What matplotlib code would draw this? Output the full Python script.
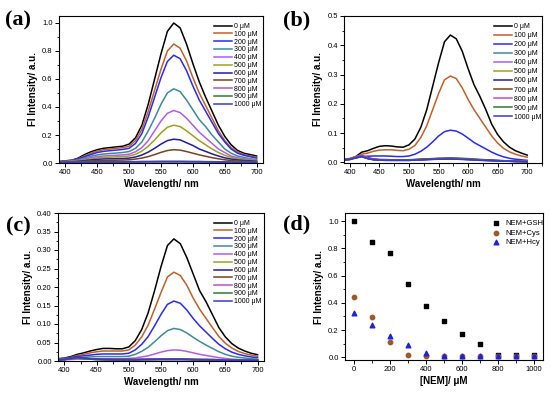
import numpy as np
import matplotlib.pyplot as plt
from matplotlib.ticker import MultipleLocator

plt.rcParams['font.family'] = ['Liberation Sans', 'DejaVu Sans']

# wavelength grid (nm) shared by all spectra
wl = [390, 400, 410, 420, 430, 440, 450, 460, 470, 480, 490, 500, 510, 520, 530, 540,
      550, 560, 570, 580, 590, 600, 610, 620, 630, 640, 650, 660, 670, 680, 690, 700]

labels = ['0 μM', '100 μM', '200 μM', '300 μM', '400 μM', '500 μM',
          '600 μM', '700 μM', '800 μM', '900 μM', '1000 μM']
colors = ['#000000', '#c0602a', '#2a2af0', '#3f8a94', '#b05cf0', '#a0a020',
          '#1e1e9e', '#7a4020', '#c050c0', '#2e7d2e', '#3a3ad0']

# (a) NEM + GSH
a_0 = [0.01, 0.015, 0.02, 0.035, 0.06, 0.08, 0.095, 0.105, 0.11, 0.115, 0.12, 0.135, 0.18, 0.27, 0.42, 0.60,
       0.78, 0.94, 1.0, 0.965, 0.85, 0.71, 0.58, 0.47, 0.37, 0.27, 0.19, 0.13, 0.09, 0.07, 0.06, 0.05]
a_100 = [0.01, 0.015, 0.02, 0.03, 0.05, 0.07, 0.085, 0.095, 0.10, 0.105, 0.11, 0.12, 0.16, 0.24, 0.37, 0.52,
         0.67, 0.80, 0.85, 0.82, 0.73, 0.61, 0.50, 0.41, 0.32, 0.23, 0.16, 0.11, 0.08, 0.06, 0.05, 0.04]
a_200 = [0.01, 0.012, 0.018, 0.028, 0.045, 0.06, 0.075, 0.083, 0.088, 0.092, 0.097, 0.105, 0.14, 0.21, 0.33, 0.47,
         0.61, 0.725, 0.77, 0.745, 0.66, 0.55, 0.45, 0.37, 0.29, 0.21, 0.15, 0.10, 0.07, 0.055, 0.045, 0.035]
a_300 = [0.008, 0.01, 0.015, 0.022, 0.035, 0.048, 0.058, 0.064, 0.068, 0.071, 0.075, 0.082, 0.105, 0.15, 0.23, 0.32,
         0.42, 0.50, 0.53, 0.51, 0.45, 0.38, 0.31, 0.26, 0.20, 0.15, 0.10, 0.07, 0.05, 0.04, 0.03, 0.025]
a_400 = [0.007, 0.009, 0.013, 0.018, 0.028, 0.038, 0.046, 0.05, 0.053, 0.055, 0.058, 0.063, 0.08, 0.11, 0.16, 0.23,
         0.30, 0.355, 0.375, 0.36, 0.32, 0.27, 0.22, 0.18, 0.14, 0.10, 0.075, 0.05, 0.038, 0.03, 0.025, 0.02]
a_500 = [0.006, 0.008, 0.011, 0.015, 0.022, 0.03, 0.036, 0.04, 0.042, 0.044, 0.046, 0.05, 0.062, 0.085, 0.12, 0.165,
         0.215, 0.255, 0.27, 0.26, 0.23, 0.195, 0.16, 0.13, 0.10, 0.075, 0.055, 0.04, 0.03, 0.024, 0.02, 0.016]
a_600 = [0.005, 0.007, 0.009, 0.012, 0.017, 0.022, 0.026, 0.029, 0.03, 0.031, 0.032, 0.035, 0.043, 0.057, 0.078, 0.105,
         0.135, 0.16, 0.17, 0.165, 0.145, 0.125, 0.10, 0.083, 0.065, 0.05, 0.037, 0.028, 0.022, 0.018, 0.015, 0.012]
a_700 = [0.004, 0.005, 0.007, 0.009, 0.012, 0.015, 0.017, 0.018, 0.019, 0.02, 0.021, 0.023, 0.028, 0.035, 0.046, 0.06,
         0.076, 0.089, 0.095, 0.092, 0.082, 0.07, 0.058, 0.048, 0.038, 0.03, 0.023, 0.018, 0.014, 0.012, 0.01, 0.008]
a_800 = [0.003, 0.004, 0.005, 0.006, 0.007, 0.008, 0.008, 0.009, 0.009, 0.009, 0.009, 0.01, 0.01, 0.011, 0.011, 0.012,
         0.012, 0.012, 0.012, 0.012, 0.012, 0.011, 0.011, 0.01, 0.01, 0.009, 0.008, 0.007, 0.006, 0.006, 0.005, 0.005]
a_900 = [0.003, 0.004, 0.005, 0.006, 0.007, 0.007, 0.008, 0.008, 0.008, 0.008, 0.008, 0.009, 0.009, 0.01, 0.01, 0.01,
         0.011, 0.011, 0.011, 0.011, 0.01, 0.01, 0.01, 0.009, 0.009, 0.008, 0.007, 0.006, 0.006, 0.005, 0.005, 0.004]
a_1000 = [0.003, 0.003, 0.004, 0.005, 0.005, 0.006, 0.006, 0.006, 0.006, 0.006, 0.006, 0.007, 0.007, 0.007, 0.008, 0.008,
          0.008, 0.008, 0.008, 0.008, 0.008, 0.008, 0.007, 0.007, 0.007, 0.006, 0.006, 0.005, 0.005, 0.004, 0.004, 0.004]

# (b) NEM + Cys
b_0 = [0.012, 0.013, 0.02, 0.035, 0.04, 0.048, 0.055, 0.057, 0.056, 0.053, 0.052, 0.06, 0.08, 0.12, 0.18, 0.26,
       0.34, 0.412, 0.435, 0.422, 0.38, 0.32, 0.265, 0.225, 0.18, 0.13, 0.095, 0.07, 0.052, 0.04, 0.032, 0.025]
b_100 = [0.01, 0.012, 0.018, 0.028, 0.032, 0.038, 0.042, 0.043, 0.043, 0.041, 0.04, 0.045, 0.058, 0.085, 0.125, 0.18,
         0.235, 0.282, 0.295, 0.286, 0.255, 0.215, 0.18, 0.15, 0.12, 0.09, 0.066, 0.048, 0.036, 0.028, 0.022, 0.018]
b_200 = [0.01, 0.012, 0.016, 0.02, 0.021, 0.022, 0.022, 0.022, 0.021, 0.02, 0.02, 0.022, 0.028, 0.038, 0.052, 0.07,
         0.09, 0.105, 0.11, 0.107, 0.097, 0.083, 0.068, 0.057, 0.046, 0.035, 0.026, 0.019, 0.014, 0.011, 0.009, 0.007]
b_300 = [0.01, 0.012, 0.018, 0.022, 0.015, 0.011, 0.01, 0.01, 0.009, 0.009, 0.009, 0.009, 0.01, 0.011, 0.012, 0.013,
         0.014, 0.015, 0.015, 0.015, 0.014, 0.013, 0.011, 0.01, 0.009, 0.008, 0.007, 0.006, 0.005, 0.005, 0.004, 0.004]
b_400 = [0.01, 0.012, 0.02, 0.025, 0.017, 0.012, 0.01, 0.009, 0.009, 0.009, 0.009, 0.009, 0.01, 0.011, 0.012, 0.013,
         0.014, 0.014, 0.015, 0.014, 0.013, 0.012, 0.011, 0.01, 0.009, 0.008, 0.007, 0.006, 0.005, 0.005, 0.004, 0.004]
b_500 = [0.009, 0.011, 0.016, 0.02, 0.014, 0.01, 0.009, 0.009, 0.008, 0.008, 0.008, 0.008, 0.009, 0.01, 0.011, 0.012,
         0.013, 0.014, 0.014, 0.014, 0.013, 0.012, 0.01, 0.009, 0.008, 0.007, 0.006, 0.005, 0.005, 0.004, 0.004, 0.003]
b_600 = [0.009, 0.011, 0.017, 0.021, 0.014, 0.01, 0.009, 0.008, 0.008, 0.008, 0.008, 0.008, 0.009, 0.01, 0.011, 0.012,
         0.013, 0.013, 0.014, 0.013, 0.012, 0.011, 0.01, 0.009, 0.008, 0.007, 0.006, 0.005, 0.004, 0.004, 0.003, 0.003]
b_700 = [0.009, 0.011, 0.018, 0.023, 0.015, 0.011, 0.009, 0.009, 0.008, 0.008, 0.008, 0.008, 0.009, 0.01, 0.011, 0.012,
         0.012, 0.013, 0.013, 0.013, 0.012, 0.011, 0.01, 0.009, 0.008, 0.007, 0.006, 0.005, 0.004, 0.004, 0.003, 0.003]
b_800 = [0.008, 0.01, 0.017, 0.022, 0.014, 0.01, 0.008, 0.008, 0.007, 0.007, 0.007, 0.007, 0.008, 0.009, 0.01, 0.011,
         0.012, 0.012, 0.012, 0.012, 0.011, 0.01, 0.009, 0.008, 0.007, 0.006, 0.005, 0.005, 0.004, 0.003, 0.003, 0.003]
b_900 = [0.008, 0.01, 0.015, 0.019, 0.013, 0.009, 0.008, 0.007, 0.007, 0.007, 0.007, 0.007, 0.008, 0.009, 0.01, 0.011,
         0.011, 0.012, 0.012, 0.012, 0.011, 0.01, 0.009, 0.008, 0.007, 0.006, 0.005, 0.004, 0.004, 0.003, 0.003, 0.002]
b_1000 = [0.008, 0.01, 0.016, 0.02, 0.013, 0.009, 0.008, 0.007, 0.007, 0.007, 0.007, 0.007, 0.008, 0.008, 0.009, 0.01,
          0.011, 0.011, 0.011, 0.011, 0.01, 0.009, 0.008, 0.007, 0.006, 0.006, 0.005, 0.004, 0.004, 0.003, 0.003, 0.002]

# (c) NEM + Hcy
c_0 = [0.006, 0.008, 0.012, 0.018, 0.022, 0.027, 0.031, 0.034, 0.034, 0.033, 0.033, 0.038, 0.055, 0.085, 0.13, 0.19,
       0.255, 0.312, 0.33, 0.317, 0.28, 0.235, 0.19, 0.16, 0.125, 0.09, 0.065, 0.047, 0.035, 0.027, 0.021, 0.017]
c_100 = [0.006, 0.007, 0.01, 0.015, 0.018, 0.022, 0.025, 0.027, 0.027, 0.027, 0.027, 0.03, 0.043, 0.065, 0.097, 0.14,
         0.185, 0.227, 0.24, 0.231, 0.205, 0.17, 0.14, 0.115, 0.09, 0.066, 0.048, 0.035, 0.026, 0.02, 0.016, 0.013]
c_200 = [0.005, 0.006, 0.009, 0.012, 0.014, 0.016, 0.018, 0.019, 0.019, 0.019, 0.019, 0.021, 0.03, 0.045, 0.066, 0.095,
         0.126, 0.153, 0.162, 0.156, 0.138, 0.115, 0.095, 0.078, 0.061, 0.045, 0.033, 0.024, 0.018, 0.014, 0.011, 0.009]
c_300 = [0.004, 0.005, 0.007, 0.009, 0.01, 0.011, 0.012, 0.012, 0.012, 0.012, 0.012, 0.013, 0.018, 0.026, 0.037, 0.052,
         0.068, 0.082, 0.088, 0.085, 0.076, 0.064, 0.053, 0.043, 0.034, 0.025, 0.018, 0.013, 0.01, 0.008, 0.006, 0.005]
c_400 = [0.003, 0.003, 0.004, 0.005, 0.005, 0.006, 0.006, 0.006, 0.006, 0.006, 0.006, 0.007, 0.008, 0.011, 0.014, 0.019,
         0.024, 0.028, 0.03, 0.029, 0.026, 0.022, 0.018, 0.015, 0.012, 0.009, 0.007, 0.005, 0.004, 0.003, 0.003, 0.002]
c_500 = [0.003, 0.004, 0.006, 0.009, 0.008, 0.006, 0.005, 0.004, 0.004, 0.004, 0.004, 0.004, 0.004, 0.004, 0.005, 0.005,
         0.005, 0.005, 0.005, 0.005, 0.005, 0.005, 0.004, 0.004, 0.004, 0.004, 0.003, 0.003, 0.003, 0.003, 0.002, 0.002]
c_600 = [0.003, 0.004, 0.007, 0.01, 0.008, 0.006, 0.005, 0.004, 0.004, 0.004, 0.004, 0.004, 0.004, 0.004, 0.004, 0.005,
         0.005, 0.005, 0.005, 0.005, 0.005, 0.004, 0.004, 0.004, 0.004, 0.003, 0.003, 0.003, 0.003, 0.002, 0.002, 0.002]
c_700 = [0.003, 0.004, 0.006, 0.009, 0.007, 0.005, 0.004, 0.004, 0.004, 0.004, 0.004, 0.004, 0.004, 0.004, 0.004, 0.004,
         0.005, 0.005, 0.005, 0.005, 0.004, 0.004, 0.004, 0.004, 0.003, 0.003, 0.003, 0.003, 0.002, 0.002, 0.002, 0.002]
c_800 = [0.003, 0.004, 0.006, 0.008, 0.007, 0.005, 0.004, 0.004, 0.003, 0.003, 0.003, 0.003, 0.004, 0.004, 0.004, 0.004,
         0.004, 0.004, 0.004, 0.004, 0.004, 0.004, 0.004, 0.003, 0.003, 0.003, 0.003, 0.002, 0.002, 0.002, 0.002, 0.002]
c_900 = [0.003, 0.004, 0.006, 0.008, 0.006, 0.005, 0.004, 0.004, 0.003, 0.003, 0.003, 0.003, 0.003, 0.004, 0.004, 0.004,
         0.004, 0.004, 0.004, 0.004, 0.004, 0.004, 0.003, 0.003, 0.003, 0.003, 0.002, 0.002, 0.002, 0.002, 0.002, 0.002]
c_1000 = [0.003, 0.004, 0.007, 0.01, 0.008, 0.006, 0.005, 0.004, 0.004, 0.003, 0.003, 0.003, 0.003, 0.004, 0.004, 0.004,
          0.004, 0.004, 0.004, 0.004, 0.004, 0.003, 0.003, 0.003, 0.003, 0.003, 0.002, 0.002, 0.002, 0.002, 0.002, 0.002]

# (d) peak intensity vs NEM
nem = [0, 100, 200, 300, 400, 500, 600, 700, 800, 900, 1000]
d_gsh = [1.0, 0.85, 0.765, 0.535, 0.375, 0.27, 0.17, 0.095, 0.02, 0.02, 0.02]
d_cys = [0.44, 0.295, 0.11, 0.015, 0.01, 0.01, 0.01, 0.01, 0.01, 0.01, 0.01]
d_hcy = [0.325, 0.24, 0.16, 0.09, 0.03, 0.01, 0.01, 0.01, 0.01, 0.01, 0.01]

set_a = [a_0, a_100, a_200, a_300, a_400, a_500, a_600, a_700, a_800, a_900, a_1000]
set_b = [b_0, b_100, b_200, b_300, b_400, b_500, b_600, b_700, b_800, b_900, b_1000]
set_c = [c_0, c_100, c_200, c_300, c_400, c_500, c_600, c_700, c_800, c_900, c_1000]

W, H = 550, 393
fig = plt.figure(figsize=(W / 100, H / 100), dpi=100)


def box(l, r, t, b):
    return [l / W, (H - b) / H, (r - l) / W, (b - t) / H]


def style(ax, xlab):
    for s in ax.spines.values():
        s.set_linewidth(0.8)
    ax.tick_params(which='major', direction='out', length=3, width=0.7, labelsize=5.5, pad=1.5)
    ax.tick_params(which='minor', direction='out', length=1.8, width=0.6)
    ax.set_xlabel(xlab, fontsize=7, fontweight='bold', labelpad=2)
    ax.set_ylabel('Fl Intensity/ a.u.', fontsize=7, fontweight='bold', labelpad=3)


def spectra(ax, curves, xmax, ylim, major, minor, leg_x, spacing):
    for y, c, lab in zip(curves, colors, labels):
        ax.plot(wl, y, color=c, lw=1.1, label=lab, solid_joinstyle='round')
    ax.set_xlim(390, xmax)
    ax.set_ylim(*ylim)
    ax.xaxis.set_major_locator(MultipleLocator(50))
    ax.xaxis.set_minor_locator(MultipleLocator(25))
    ax.yaxis.set_major_locator(MultipleLocator(major))
    ax.yaxis.set_minor_locator(MultipleLocator(minor))
    style(ax, 'Wavelength/ nm')
    ax.legend(loc='upper left', bbox_to_anchor=(leg_x, 1.0), frameon=False, fontsize=5.0,
              handlelength=2.6, handletextpad=0.3, labelspacing=spacing, borderpad=0.5)


ax1 = fig.add_axes(box(59, 263, 16, 163))
spectra(ax1, set_a, 710, (0, 1.05), 0.2, 0.1, 0.725, 0.12)
ax1.yaxis.set_major_formatter(plt.FormatStrFormatter('%.1f'))

ax2 = fig.add_axes(box(344, 542, 16, 163))
spectra(ax2, set_b, 725, (-0.002, 0.5), 0.1, 0.05, 0.72, 0.3)
ax2.yaxis.set_major_formatter(plt.FormatStrFormatter('%.1f'))

ax3 = fig.add_axes(box(58, 264, 213, 361))
spectra(ax3, set_c, 710, (0, 0.40), 0.05, 0.025, 0.725, 0.12)
ax3.yaxis.set_major_formatter(plt.FormatStrFormatter('%.2f'))

ax4 = fig.add_axes(box(345, 543, 213, 360))
ax4.scatter(nem, d_gsh, marker='s', s=9, color='black', label='NEM+GSH', zorder=3)
ax4.scatter(nem, d_cys, marker='o', s=10, color='#9c5a2c', label='NEM+Cys', zorder=3)
ax4.scatter(nem, d_hcy, marker='^', s=11, color='#2020e0', label='NEM+Hcy', zorder=3)
ax4.set_xlim(-50, 1050)
ax4.set_ylim(-0.02, 1.06)
ax4.xaxis.set_major_locator(MultipleLocator(200))
ax4.xaxis.set_minor_locator(MultipleLocator(100))
ax4.yaxis.set_major_locator(MultipleLocator(0.2))
ax4.yaxis.set_minor_locator(MultipleLocator(0.1))
ax4.yaxis.set_major_formatter(plt.FormatStrFormatter('%.1f'))
style(ax4, '[NEM]/ μM')
ax4.legend(loc='upper left', bbox_to_anchor=(0.69, 1.0), frameon=False, fontsize=5.5,
           handletextpad=0.2, labelspacing=0.3, borderpad=0.4, markerscale=1.0)

for txt, x, y in [('(a)', 18, 20), ('(b)', 297, 20), ('(c)', 18, 226), ('(d)', 297, 224)]:
    fig.text(x / W, 1 - y / H, txt, fontsize=16, fontweight='bold', family='Liberation Serif',
             ha='center', va='center')

fig.savefig('out.png', dpi=100)
